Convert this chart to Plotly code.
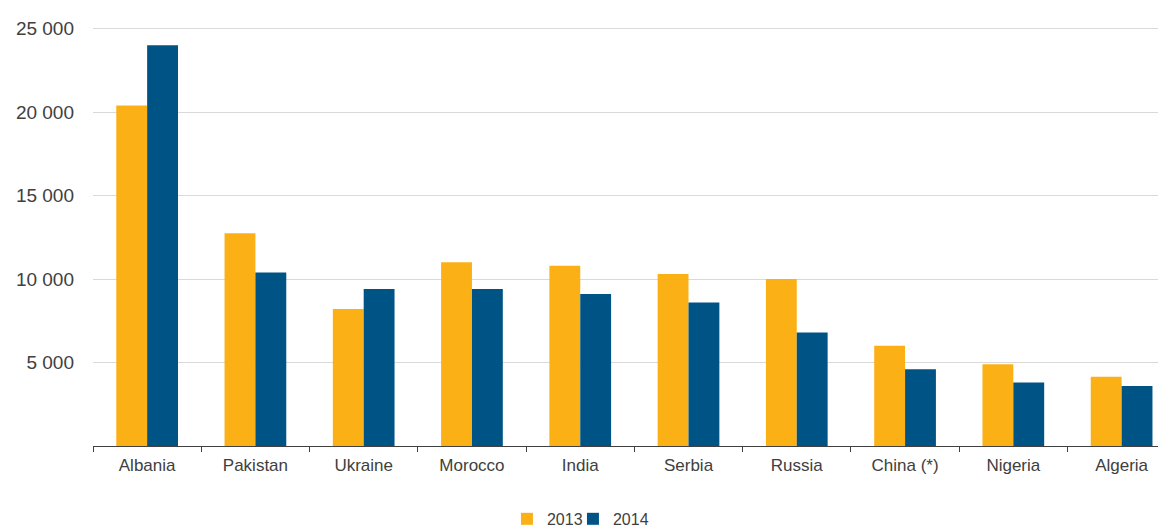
import plotly.graph_objects as go

countries = ["Albania", "Pakistan", "Ukraine", "Morocco", "India", "Serbia",
             "Russia", "China (*)", "Nigeria", "Algeria"]
values_2013 = [20400, 12750, 8200, 11000, 10800, 10300, 10000, 6000, 4900, 4150]
values_2014 = [24000, 10400, 9400, 9400, 9100, 8600, 6800, 4600, 3800, 3600]
y_tick_values = [5000, 10000, 15000, 20000, 25000]
y_tick_labels = ["5 000", "10 000", "15 000", "20 000", "25 000"]

fig = go.Figure()
fig.add_trace(go.Bar(name="2013", x=countries, y=values_2013, legend="legend",
                     showlegend=True,
                     marker=dict(color="#FBB116", line=dict(width=0))))
fig.add_trace(go.Bar(name="2014", x=countries, y=values_2014, legend="legend2",
                     showlegend=True,
                     marker=dict(color="#005485", line=dict(width=0))))

legend_style = dict(orientation="h", xref="paper", yref="paper",
                    xanchor="left", yanchor="middle", y=-0.174,
                    font=dict(size=16, color="#404040"), itemwidth=30,
                    bgcolor="rgba(0,0,0,0)")

fig.update_layout(
    width=1158, height=523,
    showlegend=True,
    margin=dict(l=85, r=0, t=19, b=85, autoexpand=False),
    paper_bgcolor="white", plot_bgcolor="white",
    barmode="group", bargap=0.43, bargroupgap=0,
    font=dict(family="Liberation Sans, Arial, sans-serif", size=17, color="#404040"),
    legend=dict(x=0.3858, **legend_style),
    legend2=dict(x=0.4473, **legend_style),
    xaxis=dict(range=[-0.5, 9.41], showline=True, linecolor="#404040", linewidth=1,
               ticks="outside", tickson="boundaries", ticklen=5, tickcolor="#404040",
               showgrid=False, automargin=False, ticklabelstandoff=4,
               tickfont=dict(size=17, color="#404040")),
    yaxis=dict(range=[0, 25100], tickvals=y_tick_values, ticktext=y_tick_labels,
               showgrid=True, gridcolor="#D9D9D9", gridwidth=1, zeroline=False,
               showline=False, ticks="", ticklabelstandoff=18, automargin=False,
               tickfont=dict(size=19, color="#404040")),
)

fig.write_html("out.html")
